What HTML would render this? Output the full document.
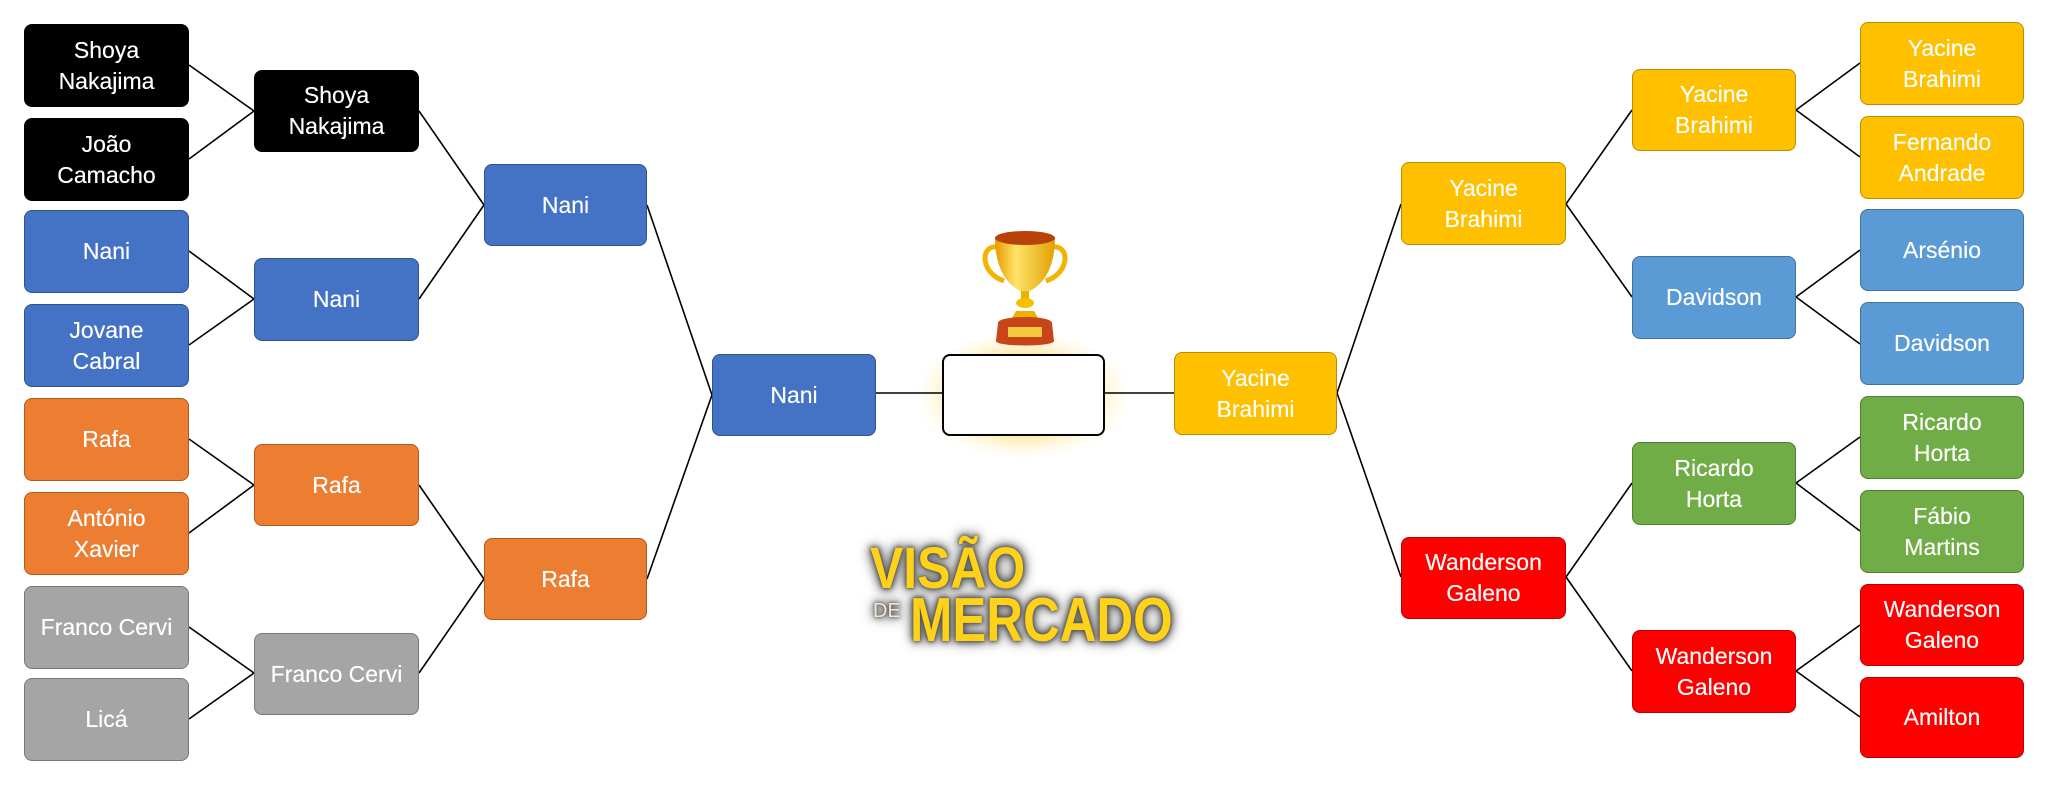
<!DOCTYPE html>
<html><head><meta charset="utf-8">
<style>
html,body{margin:0;padding:0;background:#fff;}
body{width:2048px;height:788px;position:relative;overflow:hidden;font-family:"Liberation Sans",sans-serif;}
.b{position:absolute;box-sizing:border-box;border-radius:8px;display:flex;align-items:center;justify-content:center;text-align:center;color:#fff;font-size:23px;line-height:31px;border:1.5px solid;text-shadow:0 0 0.4px #fff;}
.k{background:#000;border-color:#000;}
.bl{background:#4472C4;border-color:#2F528F;}
.o{background:#ED7D31;border-color:#AE5A21;}
.g{background:#A5A5A5;border-color:#787878;}
.y{background:#FFC000;border-color:#BC8C00;}
.lb{background:#5B9BD5;border-color:#41719C;}
.gr{background:#70AD47;border-color:#507E32;}
.r{background:#FF0000;border-color:#BC0000;}
svg{position:absolute;left:0;top:0;}
.logo{position:absolute;font-weight:bold;color:#FFD21A;white-space:nowrap;transform-origin:0 0;
text-shadow:0 0 3px #555,0 0 6px #555,0 0 9px #666,0 0 13px #777,0 0 16px #999;}
</style></head><body>
<svg width="2048" height="788">
<defs>
<radialGradient id="glow" cx="50%" cy="50%" r="50%"><stop offset="55%" stop-color="#FFE08A" stop-opacity="1"/><stop offset="100%" stop-color="#FFF6D8" stop-opacity="0"/></radialGradient>
<linearGradient id="gold" x1="0" x2="1"><stop offset="0" stop-color="#E89A00"/><stop offset="0.35" stop-color="#FFE36A"/><stop offset="1" stop-color="#E0A000"/></linearGradient>
</defs>
<rect x="915" y="330" width="217" height="130" rx="26" fill="url(#glow)"/>
<g stroke="#000" stroke-width="1.6" fill="none">
<line x1="189" y1="65" x2="254" y2="111"/><line x1="189" y1="159" x2="254" y2="111"/>
<line x1="189" y1="251" x2="254" y2="299"/><line x1="189" y1="345" x2="254" y2="299"/>
<line x1="189" y1="439" x2="254" y2="485"/><line x1="189" y1="533" x2="254" y2="485"/>
<line x1="189" y1="627" x2="254" y2="673"/><line x1="189" y1="719" x2="254" y2="673"/>
<line x1="419" y1="111" x2="484" y2="205"/><line x1="419" y1="299" x2="484" y2="205"/>
<line x1="419" y1="485" x2="484" y2="579"/><line x1="419" y1="673" x2="484" y2="579"/>
<line x1="647" y1="205" x2="712" y2="395"/><line x1="647" y1="579" x2="712" y2="395"/>
<line x1="876" y1="393" x2="942" y2="393"/>
<line x1="1105" y1="393" x2="1174" y2="393"/>
<line x1="1337" y1="393" x2="1401" y2="204"/><line x1="1337" y1="393" x2="1401" y2="577"/>
<line x1="1566" y1="204" x2="1632" y2="110"/><line x1="1566" y1="204" x2="1632" y2="297"/>
<line x1="1566" y1="577" x2="1632" y2="483"/><line x1="1566" y1="577" x2="1632" y2="671"/>
<line x1="1796" y1="110" x2="1860" y2="63"/><line x1="1796" y1="110" x2="1860" y2="157"/>
<line x1="1796" y1="297" x2="1860" y2="250"/><line x1="1796" y1="297" x2="1860" y2="344"/>
<line x1="1796" y1="483" x2="1860" y2="437"/><line x1="1796" y1="483" x2="1860" y2="531"/>
<line x1="1796" y1="671" x2="1860" y2="625"/><line x1="1796" y1="671" x2="1860" y2="717"/>
</g>
<g transform="translate(960,225)">
<path d="M37 22 C20 20 20 48 44 56" stroke="#F2B400" stroke-width="5" fill="none"/>
<path d="M93 22 C110 20 110 48 86 56" stroke="#F2B400" stroke-width="5" fill="none"/>
<path d="M35 12 L95 12 C95 45 82 62 65 68 C48 62 35 45 35 12 Z" fill="url(#gold)"/>
<ellipse cx="65" cy="13" rx="30" ry="7" fill="#B8420A"/>
<rect x="61" y="66" width="8" height="14" fill="#F0B000"/>
<ellipse cx="65" cy="78" rx="9" ry="5" fill="#F5C000"/>
<path d="M56 86 L74 86 L80 96 L50 96 Z" fill="#F0B000"/>
<path d="M38 98 C38 90 92 90 92 98 L94 116 C94 122 36 122 36 116 Z" fill="#C8451A"/>
<rect x="48" y="102" width="34" height="10" fill="#F6C840"/>
</g>
</svg>
<div class="b k" style="left:24px;top:24px;width:165px;height:83px">Shoya<br>Nakajima</div>
<div class="b k" style="left:24px;top:118px;width:165px;height:83px">João<br>Camacho</div>
<div class="b bl" style="left:24px;top:210px;width:165px;height:83px">Nani</div>
<div class="b bl" style="left:24px;top:304px;width:165px;height:83px">Jovane<br>Cabral</div>
<div class="b o" style="left:24px;top:398px;width:165px;height:83px">Rafa</div>
<div class="b o" style="left:24px;top:492px;width:165px;height:83px">António<br>Xavier</div>
<div class="b g" style="left:24px;top:586px;width:165px;height:83px">Franco Cervi</div>
<div class="b g" style="left:24px;top:678px;width:165px;height:83px">Licá</div>
<div class="b k" style="left:254px;top:70px;width:165px;height:82px">Shoya<br>Nakajima</div>
<div class="b bl" style="left:254px;top:258px;width:165px;height:83px">Nani</div>
<div class="b o" style="left:254px;top:444px;width:165px;height:82px">Rafa</div>
<div class="b g" style="left:254px;top:633px;width:165px;height:82px">Franco Cervi</div>
<div class="b bl" style="left:484px;top:164px;width:163px;height:82px">Nani</div>
<div class="b o" style="left:484px;top:538px;width:163px;height:82px">Rafa</div>
<div class="b bl" style="left:712px;top:354px;width:164px;height:82px">Nani</div>
<div class="b" style="left:942px;top:354px;width:163px;height:82px;background:#fff;border:2px solid #000;"></div>
<div class="b y" style="left:1174px;top:352px;width:163px;height:83px">Yacine<br>Brahimi</div>
<div class="b y" style="left:1401px;top:162px;width:165px;height:83px">Yacine<br>Brahimi</div>
<div class="b r" style="left:1401px;top:537px;width:165px;height:82px">Wanderson<br>Galeno</div>
<div class="b y" style="left:1632px;top:69px;width:164px;height:82px">Yacine<br>Brahimi</div>
<div class="b lb" style="left:1632px;top:256px;width:164px;height:83px">Davidson</div>
<div class="b gr" style="left:1632px;top:442px;width:164px;height:83px">Ricardo<br>Horta</div>
<div class="b r" style="left:1632px;top:630px;width:164px;height:83px">Wanderson<br>Galeno</div>
<div class="b y" style="left:1860px;top:22px;width:164px;height:83px">Yacine<br>Brahimi</div>
<div class="b y" style="left:1860px;top:116px;width:164px;height:83px">Fernando<br>Andrade</div>
<div class="b lb" style="left:1860px;top:209px;width:164px;height:82px">Arsénio</div>
<div class="b lb" style="left:1860px;top:302px;width:164px;height:83px">Davidson</div>
<div class="b gr" style="left:1860px;top:396px;width:164px;height:83px">Ricardo<br>Horta</div>
<div class="b gr" style="left:1860px;top:490px;width:164px;height:83px">Fábio<br>Martins</div>
<div class="b r" style="left:1860px;top:584px;width:164px;height:82px">Wanderson<br>Galeno</div>
<div class="b r" style="left:1860px;top:677px;width:164px;height:81px">Amilton</div>
<div class="logo" style="left:870px;top:536px;font-size:58px;line-height:66px;transform:scaleX(0.86);">VISÃO</div>
<div class="logo" style="left:873px;top:598px;font-size:20px;line-height:26px;color:#F3E6D0;font-weight:normal;">DE</div>
<div class="logo" style="left:910px;top:588px;font-size:62px;line-height:66px;transform:scaleX(0.82);">MERCADO</div>
</body></html>
